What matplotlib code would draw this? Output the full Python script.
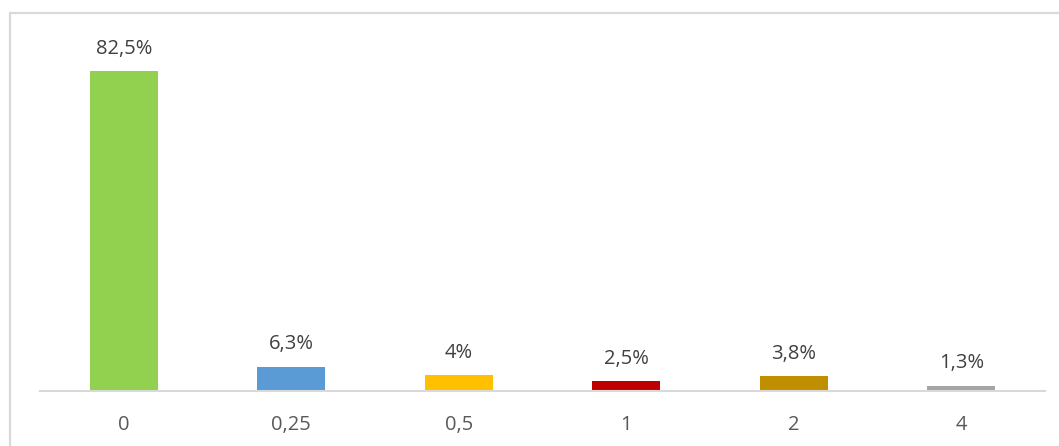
import matplotlib.pyplot as plt
from matplotlib.patches import Rectangle

categories = ['0', '0,25', '0,5', '1', '2', '4']
values = [82.5, 6.3, 4.0, 2.5, 3.8, 1.3]
labels = ['82,5%', '6,3%', '4%', '2,5%', '3,8%', '1,3%']
colors = ['#92D050', '#5B9BD5', '#FFC000', '#C00000', '#BF8F00', '#A5A5A5']

plt.rcParams['font.family'] = ['Open Sans', 'DejaVu Sans']

W, H = 1059, 446
fig = plt.figure(figsize=(W / 100, H / 100), dpi=100)

# chart border (light gray frame, cut off at right/bottom like the screenshot)
fig.patches.append(Rectangle((10 / W, -0.1), 1.2, 1.1 - 13 / H, transform=fig.transFigure,
                             fill=False, edgecolor='#D9D9D9', lw=1.6))

ax = fig.add_axes([40 / W, (H - 391) / H, 1005 / W, (391 - 42) / H])
x = range(len(categories))
bars = ax.bar(x, values, width=0.405, color=colors)

for b, lab in zip(bars, labels):
    ax.annotate(lab, (b.get_x() + b.get_width() / 2, b.get_height()),
                xytext=(0, 9), textcoords='offset points',
                ha='center', va='bottom', fontsize=14.5, color='#404040')

ax.set_xlim(-0.5, len(categories) - 0.5)
ax.set_ylim(0, 90)
ax.set_xticks(list(x))
ax.set_xticklabels(categories, fontsize=14.5, color='#595959')
ax.tick_params(axis='x', length=0, pad=17)
ax.set_yticks([])
for s in ['top', 'right', 'left']:
    ax.spines[s].set_visible(False)
ax.spines['bottom'].set_color('#D9D9D9')
ax.spines['bottom'].set_linewidth(1.5)

fig.savefig('out.png', dpi=100)
